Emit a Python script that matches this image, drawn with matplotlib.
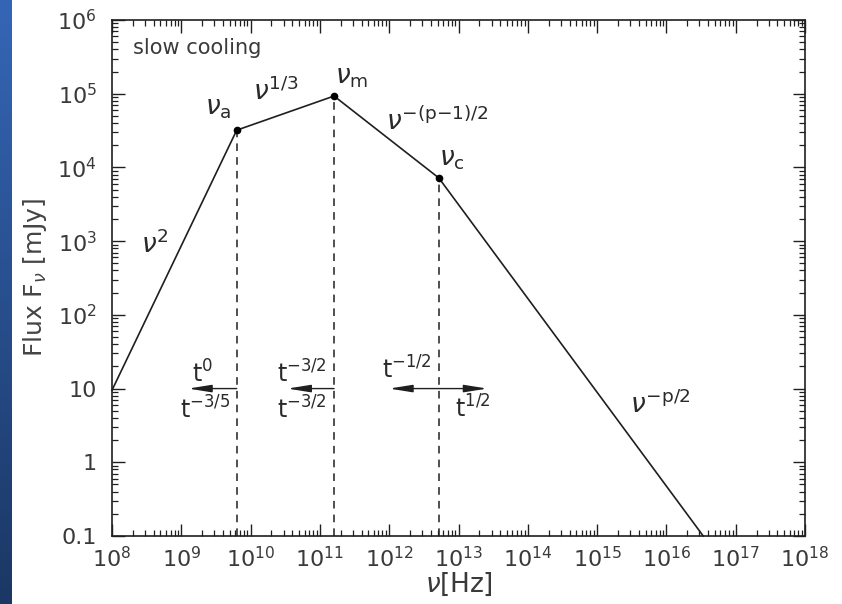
import numpy as np
import matplotlib
matplotlib.use("Agg")
import matplotlib.pyplot as plt
from matplotlib.colors import LinearSegmentedColormap
from matplotlib.ticker import LogLocator, FixedLocator, FixedFormatter, NullFormatter

plt.rcParams['font.family'] = ['DejaVu Sans']
plt.rcParams['mathtext.fontset'] = 'dejavusans'

# Broken power-law synchrotron spectrum (slow cooling)
nu_pts = [1e8, 6.3e9, 1.6e11, 5.2e12, 3.4e16]
flux_pts = [9.5, 3.2e4, 9.3e4, 7.2e3, 0.1]

# break frequencies marked with dots and dashed drop lines
break_nu = [6.3e9, 1.6e11, 5.2e12]
break_flux = [3.2e4, 9.3e4, 7.2e3]

x_ticks = [10.0 ** k for k in range(8, 19)]
x_labels = [r'$10^{%d}$' % k for k in range(8, 19)]
y_ticks = [0.1, 1, 10, 1e2, 1e3, 1e4, 1e5, 1e6]
y_labels = ['0.1', '1', '10', r'$10^{2}$', r'$10^{3}$', r'$10^{4}$', r'$10^{5}$', r'$10^{6}$']

# time-evolution arrows at F = 10 mJy: (start, end, both-headed)
arrow_y = 10
arrows = [(6.3e9, 1.26e9, False), (1.6e11, 3.4e10, False), (1.0e12, 2.6e13, True)]

ink = '#1f1f1f'
txt = '#3a3a3a'

fig = plt.figure(figsize=(8.42, 6.04), dpi=100)
fig.patch.set_facecolor('white')

# blue band along the left edge
band = fig.add_axes([0, 0, 12 / 842, 1])
grad = np.linspace(0, 1, 256).reshape(-1, 1)
cmap = LinearSegmentedColormap.from_list('band', ['#3566b6', '#1b3764'])
band.imshow(grad, aspect='auto', cmap=cmap, extent=[0, 1, 1, 0])
band.set_axis_off()

ax = fig.add_axes([112 / 842, 1 - 536 / 604, 693 / 842, 516 / 604])
ax.set_xscale('log')
ax.set_yscale('log')
ax.set_xlim(1e8, 1e18)
ax.set_ylim(0.1, 1e6)

ax.plot(nu_pts, flux_pts, color=ink, lw=1.2, solid_joinstyle='miter', clip_on=False)
ax.plot(break_nu, break_flux, 'o', color='black', ms=4.5, zorder=5)
for bn, bf in zip(break_nu, break_flux):
    ax.plot([bn, bn], [0.1, bf], color=ink, lw=1.1, ls=(0, (5, 4)))

for x0, x1, both in arrows:
    style = '<|-|>' if both else '-|>'
    ax.annotate('', xy=(x1, arrow_y), xytext=(x0, arrow_y),
                arrowprops=dict(arrowstyle=style + ',head_length=1.0,head_width=0.16',
                                mutation_scale=14, color=ink, lw=1.0,
                                shrinkA=0, shrinkB=0))

# ticks: inward on all four sides
ax.xaxis.set_major_locator(FixedLocator(x_ticks))
ax.xaxis.set_major_formatter(FixedFormatter(x_labels))
ax.yaxis.set_major_locator(FixedLocator(y_ticks))
ax.yaxis.set_major_formatter(FixedFormatter(y_labels))
ax.xaxis.set_minor_locator(LogLocator(base=10, subs=np.arange(2, 10), numticks=50))
ax.yaxis.set_minor_locator(LogLocator(base=10, subs=np.arange(2, 10), numticks=50))
ax.xaxis.set_minor_formatter(NullFormatter())
ax.yaxis.set_minor_formatter(NullFormatter())
ax.tick_params(which='both', direction='in', top=True, right=True, color=ink)
ax.tick_params(which='major', length=9, width=1.0)
ax.tick_params(which='minor', length=4.5, width=0.9)
ax.tick_params(axis='x', which='major', labelsize=16, pad=7, labelcolor=txt)
ax.tick_params(axis='y', which='major', labelsize=16, pad=11, labelcolor=txt)
for s in ax.spines.values():
    s.set_linewidth(1.2)
    s.set_color(ink)

ax.set_xlabel(r'$\nu$[Hz]', fontsize=19, color=txt, labelpad=0)
ax.set_ylabel(r'Flux F$_\nu$ [mJy]', fontsize=18, color='#444444', labelpad=6)

tc = '#2a2a2a'
ax.text(0.03, 0.965, 'slow cooling', transform=ax.transAxes, fontsize=15,
        color=txt, ha='left', va='top')
ax.text(4.2e8, 890, r'$\nu^2$', fontsize=19, color=tc, ha='center', va='center')
ax.text(3.4e9, 6.5e4, r'$\nu_{\rm a}$', fontsize=19, color=tc, ha='center', va='center')
ax.text(2.3e10, 1.05e5, r'$\nu^{1/3}$', fontsize=19, color=tc, ha='center', va='center')
ax.text(2.9e11, 1.7e5, r'$\nu_{\rm m}$', fontsize=19, color=tc, ha='center', va='center')
ax.text(9.0e11, 4.2e4, r'$\nu^{-(\mathrm{p{-}1})/2}$', fontsize=19, color=tc, ha='left', va='center')
ax.text(8.0e12, 1.3e4, r'$\nu_{\rm c}$', fontsize=19, color=tc, ha='center', va='center')
ax.text(8.1e15, 6.0, r'$\nu^{-\mathrm{p}/2}$', fontsize=19, color=tc, ha='center', va='center')

ax.text(2.0e9, 16, r'$\mathrm{t}^{0}$', fontsize=17, color=tc, ha='center', va='center')
ax.text(2.2e9, 5.2, r'$\mathrm{t}^{-3/5}$', fontsize=17, color=tc, ha='center', va='center')
ax.text(5.5e10, 16, r'$\mathrm{t}^{-3/2}$', fontsize=17, color=tc, ha='center', va='center')
ax.text(5.5e10, 5.2, r'$\mathrm{t}^{-3/2}$', fontsize=17, color=tc, ha='center', va='center')
ax.text(1.8e12, 17.8, r'$\mathrm{t}^{-1/2}$', fontsize=17, color=tc, ha='center', va='center')
ax.text(1.6e13, 5.3, r'$\mathrm{t}^{1/2}$', fontsize=17, color=tc, ha='center', va='center')

fig.savefig('out.png', dpi=100, facecolor='white')
